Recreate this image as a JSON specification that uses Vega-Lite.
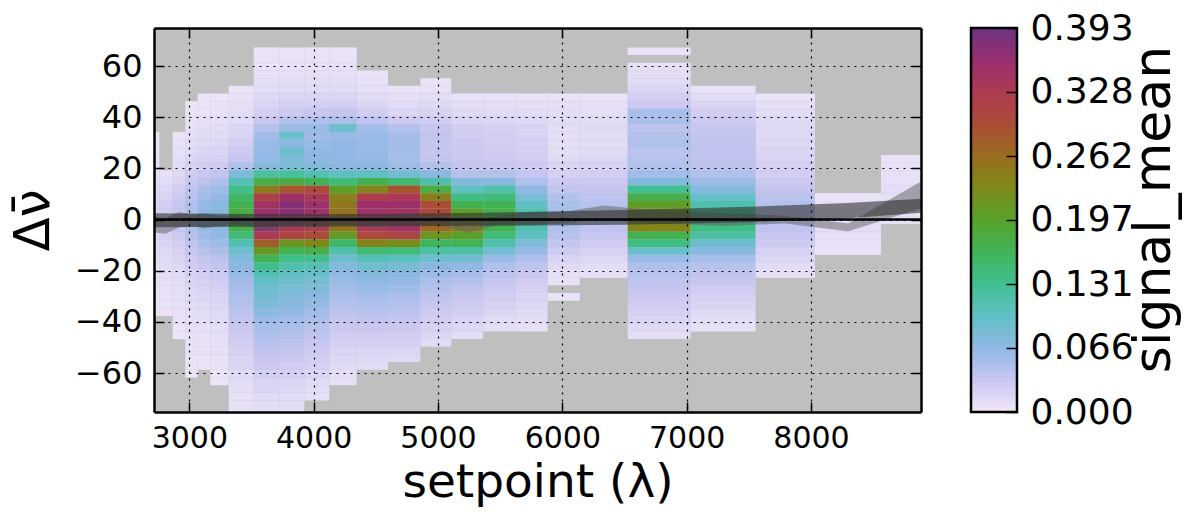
{
  "$schema": "https://vega.github.io/schema/vega-lite/v6.json",
  "background": "white",
  "padding": {"left": 8, "top": 10, "right": 10, "bottom": 12},
  "spacing": 46,
  "datasets": {
    "cols": [
      {"c":0,"x0":2660,"x1":2759},{"c":1,"x0":2759,"x1":2866},{"c":2,"x0":2866,"x1":2968},{"c":3,"x0":2968,"x1":3068},
      {"c":4,"x0":3068,"x1":3169},{"c":5,"x0":3169,"x1":3317},{"c":6,"x0":3317,"x1":3518},{"c":7,"x0":3518,"x1":3724},
      {"c":8,"x0":3724,"x1":3925},{"c":9,"x0":3925,"x1":4126},{"c":10,"x0":4126,"x1":4346},{"c":11,"x0":4346,"x1":4598},
      {"c":12,"x0":4598,"x1":4858},{"c":13,"x0":4858,"x1":5107},{"c":14,"x0":5107,"x1":5364},{"c":15,"x0":5364,"x1":5625},
      {"c":16,"x0":5625,"x1":5882},{"c":17,"x0":5882,"x1":6140},{"c":18,"x0":6140,"x1":6526},{"c":19,"x0":6526,"x1":7032},
      {"c":20,"x0":7032,"x1":7555},{"c":21,"x0":7555,"x1":8032},{"c":22,"x0":8032,"x1":8563},{"c":23,"x0":8563,"x1":9100}
    ],
    "cells": [
      {"c":0,"y":33,"v":0.004},{"c":0,"y":30,"v":0.005},{"c":0,"y":27,"v":0.006},{"c":0,"y":24,"v":0.007},{"c":0,"y":21,"v":0.008},{"c":0,"y":18,"v":0.01},{"c":0,"y":15,"v":0.012},{"c":0,"y":12,"v":0.014},{"c":0,"y":9,"v":0.016},{"c":0,"y":6,"v":0.018},{"c":0,"y":3,"v":0.02},{"c":0,"y":0,"v":0.02},{"c":0,"y":-3,"v":0.018},{"c":0,"y":-6,"v":0.016},{"c":0,"y":-9,"v":0.014},{"c":0,"y":-12,"v":0.012},{"c":0,"y":-15,"v":0.01},{"c":0,"y":-18,"v":0.009},{"c":0,"y":-21,"v":0.008},{"c":0,"y":-24,"v":0.007},{"c":0,"y":-27,"v":0.006},{"c":0,"y":-30,"v":0.005},{"c":0,"y":-33,"v":0.005},{"c":0,"y":-36,"v":0.004},
      {"c":1,"y":18,"v":0.008},{"c":1,"y":15,"v":0.012},{"c":1,"y":12,"v":0.016},{"c":1,"y":9,"v":0.02},{"c":1,"y":6,"v":0.024},{"c":1,"y":3,"v":0.026},{"c":1,"y":0,"v":0.026},{"c":1,"y":-3,"v":0.024},{"c":1,"y":-6,"v":0.021},{"c":1,"y":-9,"v":0.018},{"c":1,"y":-12,"v":0.015},{"c":1,"y":-15,"v":0.013},{"c":1,"y":-18,"v":0.011},{"c":1,"y":-21,"v":0.01},{"c":1,"y":-24,"v":0.009},{"c":1,"y":-27,"v":0.008},{"c":1,"y":-30,"v":0.007},{"c":1,"y":-33,"v":0.006},{"c":1,"y":-36,"v":0.005},
      {"c":2,"y":33,"v":0.005},{"c":2,"y":30,"v":0.006},{"c":2,"y":27,"v":0.008},{"c":2,"y":24,"v":0.01},{"c":2,"y":21,"v":0.012},{"c":2,"y":18,"v":0.015},{"c":2,"y":15,"v":0.019},{"c":2,"y":12,"v":0.024},{"c":2,"y":9,"v":0.028},{"c":2,"y":6,"v":0.032},{"c":2,"y":3,"v":0.035},{"c":2,"y":0,"v":0.035},{"c":2,"y":-3,"v":0.033},{"c":2,"y":-6,"v":0.029},{"c":2,"y":-9,"v":0.025},{"c":2,"y":-12,"v":0.021},{"c":2,"y":-15,"v":0.018},{"c":2,"y":-18,"v":0.015},{"c":2,"y":-21,"v":0.013},{"c":2,"y":-24,"v":0.011},{"c":2,"y":-27,"v":0.01},{"c":2,"y":-30,"v":0.009},{"c":2,"y":-33,"v":0.008},{"c":2,"y":-36,"v":0.007},{"c":2,"y":-39,"v":0.006},{"c":2,"y":-42,"v":0.005},{"c":2,"y":-45,"v":0.004},
      {"c":3,"y":45,"v":0.004},{"c":3,"y":42,"v":0.005},{"c":3,"y":39,"v":0.006},{"c":3,"y":36,"v":0.008},{"c":3,"y":33,"v":0.01},{"c":3,"y":30,"v":0.012},{"c":3,"y":27,"v":0.014},{"c":3,"y":24,"v":0.017},{"c":3,"y":21,"v":0.021},{"c":3,"y":18,"v":0.026},{"c":3,"y":15,"v":0.031},{"c":3,"y":12,"v":0.037},{"c":3,"y":9,"v":0.042},{"c":3,"y":6,"v":0.047},{"c":3,"y":3,"v":0.05},{"c":3,"y":0,"v":0.05},{"c":3,"y":-3,"v":0.048},{"c":3,"y":-6,"v":0.044},{"c":3,"y":-9,"v":0.039},{"c":3,"y":-12,"v":0.034},{"c":3,"y":-15,"v":0.029},{"c":3,"y":-18,"v":0.025},{"c":3,"y":-21,"v":0.021},{"c":3,"y":-24,"v":0.018},{"c":3,"y":-27,"v":0.016},{"c":3,"y":-30,"v":0.014},{"c":3,"y":-33,"v":0.012},{"c":3,"y":-36,"v":0.011},{"c":3,"y":-39,"v":0.01},{"c":3,"y":-42,"v":0.009},{"c":3,"y":-45,"v":0.008},{"c":3,"y":-48,"v":0.007},{"c":3,"y":-51,"v":0.006},{"c":3,"y":-54,"v":0.005},{"c":3,"y":-57,"v":0.005},{"c":3,"y":-60,"v":0.004},
      {"c":4,"y":48,"v":0.004},{"c":4,"y":45,"v":0.005},{"c":4,"y":42,"v":0.006},{"c":4,"y":39,"v":0.008},{"c":4,"y":36,"v":0.01},{"c":4,"y":33,"v":0.012},{"c":4,"y":30,"v":0.014},{"c":4,"y":27,"v":0.017},{"c":4,"y":24,"v":0.021},{"c":4,"y":21,"v":0.026},{"c":4,"y":18,"v":0.032},{"c":4,"y":15,"v":0.04},{"c":4,"y":12,"v":0.049},{"c":4,"y":9,"v":0.056},{"c":4,"y":6,"v":0.062},{"c":4,"y":3,"v":0.065},{"c":4,"y":0,"v":0.065},{"c":4,"y":-3,"v":0.062},{"c":4,"y":-6,"v":0.057},{"c":4,"y":-9,"v":0.05},{"c":4,"y":-12,"v":0.043},{"c":4,"y":-15,"v":0.036},{"c":4,"y":-18,"v":0.031},{"c":4,"y":-21,"v":0.026},{"c":4,"y":-24,"v":0.022},{"c":4,"y":-27,"v":0.019},{"c":4,"y":-30,"v":0.016},{"c":4,"y":-33,"v":0.014},{"c":4,"y":-36,"v":0.012},{"c":4,"y":-39,"v":0.01},{"c":4,"y":-42,"v":0.009},{"c":4,"y":-45,"v":0.008},{"c":4,"y":-48,"v":0.007},{"c":4,"y":-51,"v":0.006},{"c":4,"y":-54,"v":0.005},{"c":4,"y":-57,"v":0.004},
      {"c":5,"y":48,"v":0.004},{"c":5,"y":45,"v":0.005},{"c":5,"y":42,"v":0.007},{"c":5,"y":39,"v":0.009},{"c":5,"y":36,"v":0.011},{"c":5,"y":33,"v":0.013},{"c":5,"y":30,"v":0.016},{"c":5,"y":27,"v":0.019},{"c":5,"y":24,"v":0.023},{"c":5,"y":21,"v":0.029},{"c":5,"y":18,"v":0.037},{"c":5,"y":15,"v":0.047},{"c":5,"y":12,"v":0.057},{"c":5,"y":9,"v":0.064},{"c":5,"y":6,"v":0.07},{"c":5,"y":3,"v":0.073},{"c":5,"y":0,"v":0.073},{"c":5,"y":-3,"v":0.07},{"c":5,"y":-6,"v":0.064},{"c":5,"y":-9,"v":0.057},{"c":5,"y":-12,"v":0.049},{"c":5,"y":-15,"v":0.041},{"c":5,"y":-18,"v":0.035},{"c":5,"y":-21,"v":0.03},{"c":5,"y":-24,"v":0.026},{"c":5,"y":-27,"v":0.022},{"c":5,"y":-30,"v":0.019},{"c":5,"y":-33,"v":0.017},{"c":5,"y":-36,"v":0.015},{"c":5,"y":-39,"v":0.013},{"c":5,"y":-42,"v":0.011},{"c":5,"y":-45,"v":0.01},{"c":5,"y":-48,"v":0.009},{"c":5,"y":-51,"v":0.008},{"c":5,"y":-54,"v":0.007},{"c":5,"y":-57,"v":0.006},{"c":5,"y":-60,"v":0.005},{"c":5,"y":-63,"v":0.004},
      {"c":6,"y":51,"v":0.005},{"c":6,"y":48,"v":0.007},{"c":6,"y":45,"v":0.009},{"c":6,"y":42,"v":0.011},{"c":6,"y":39,"v":0.014},{"c":6,"y":36,"v":0.017},{"c":6,"y":33,"v":0.02},{"c":6,"y":30,"v":0.024},{"c":6,"y":27,"v":0.028},{"c":6,"y":24,"v":0.034},{"c":6,"y":21,"v":0.048},{"c":6,"y":18,"v":0.078},{"c":6,"y":15,"v":0.108},{"c":6,"y":12,"v":0.135},{"c":6,"y":9,"v":0.155},{"c":6,"y":6,"v":0.17},{"c":6,"y":3,"v":0.178},{"c":6,"y":0,"v":0.182},{"c":6,"y":-3,"v":0.172},{"c":6,"y":-6,"v":0.145},{"c":6,"y":-9,"v":0.112},{"c":6,"y":-12,"v":0.088},{"c":6,"y":-15,"v":0.075},{"c":6,"y":-18,"v":0.068},{"c":6,"y":-21,"v":0.062},{"c":6,"y":-24,"v":0.057},{"c":6,"y":-27,"v":0.052},{"c":6,"y":-30,"v":0.048},{"c":6,"y":-33,"v":0.044},{"c":6,"y":-36,"v":0.04},{"c":6,"y":-39,"v":0.036},{"c":6,"y":-42,"v":0.032},{"c":6,"y":-45,"v":0.029},{"c":6,"y":-48,"v":0.026},{"c":6,"y":-51,"v":0.023},{"c":6,"y":-54,"v":0.02},{"c":6,"y":-57,"v":0.017},{"c":6,"y":-60,"v":0.014},{"c":6,"y":-63,"v":0.012},{"c":6,"y":-66,"v":0.01},{"c":6,"y":-69,"v":0.008},{"c":6,"y":-72,"v":0.007},{"c":6,"y":-75,"v":0.006},
      {"c":7,"y":66,"v":0.005},{"c":7,"y":63,"v":0.006},{"c":7,"y":60,"v":0.007},{"c":7,"y":57,"v":0.008},{"c":7,"y":54,"v":0.01},{"c":7,"y":51,"v":0.012},{"c":7,"y":48,"v":0.015},{"c":7,"y":45,"v":0.019},{"c":7,"y":42,"v":0.024},{"c":7,"y":39,"v":0.032},{"c":7,"y":36,"v":0.045},{"c":7,"y":33,"v":0.055},{"c":7,"y":30,"v":0.06},{"c":7,"y":27,"v":0.062},{"c":7,"y":24,"v":0.064},{"c":7,"y":21,"v":0.075},{"c":7,"y":18,"v":0.12},{"c":7,"y":15,"v":0.175},{"c":7,"y":12,"v":0.245},{"c":7,"y":9,"v":0.315},{"c":7,"y":6,"v":0.345},{"c":7,"y":3,"v":0.355},{"c":7,"y":0,"v":0.36},{"c":7,"y":-3,"v":0.365},{"c":7,"y":-6,"v":0.33},{"c":7,"y":-9,"v":0.275},{"c":7,"y":-12,"v":0.21},{"c":7,"y":-15,"v":0.165},{"c":7,"y":-18,"v":0.135},{"c":7,"y":-21,"v":0.112},{"c":7,"y":-24,"v":0.097},{"c":7,"y":-27,"v":0.09},{"c":7,"y":-30,"v":0.085},{"c":7,"y":-33,"v":0.078},{"c":7,"y":-36,"v":0.068},{"c":7,"y":-39,"v":0.06},{"c":7,"y":-42,"v":0.053},{"c":7,"y":-45,"v":0.047},{"c":7,"y":-48,"v":0.042},{"c":7,"y":-51,"v":0.037},{"c":7,"y":-54,"v":0.032},{"c":7,"y":-57,"v":0.028},{"c":7,"y":-60,"v":0.024},{"c":7,"y":-63,"v":0.02},{"c":7,"y":-66,"v":0.017},{"c":7,"y":-69,"v":0.014},{"c":7,"y":-72,"v":0.011},{"c":7,"y":-75,"v":0.009},
      {"c":8,"y":66,"v":0.005},{"c":8,"y":63,"v":0.006},{"c":8,"y":60,"v":0.007},{"c":8,"y":57,"v":0.009},{"c":8,"y":54,"v":0.011},{"c":8,"y":51,"v":0.014},{"c":8,"y":48,"v":0.018},{"c":8,"y":45,"v":0.023},{"c":8,"y":42,"v":0.03},{"c":8,"y":39,"v":0.045},{"c":8,"y":36,"v":0.058},{"c":8,"y":33,"v":0.092},{"c":8,"y":30,"v":0.07},{"c":8,"y":27,"v":0.088},{"c":8,"y":24,"v":0.08},{"c":8,"y":21,"v":0.082},{"c":8,"y":18,"v":0.125},{"c":8,"y":15,"v":0.18},{"c":8,"y":12,"v":0.285},{"c":8,"y":9,"v":0.35},{"c":8,"y":6,"v":0.375},{"c":8,"y":3,"v":0.37},{"c":8,"y":0,"v":0.36},{"c":8,"y":-3,"v":0.33},{"c":8,"y":-6,"v":0.31},{"c":8,"y":-9,"v":0.215},{"c":8,"y":-12,"v":0.168},{"c":8,"y":-15,"v":0.135},{"c":8,"y":-18,"v":0.115},{"c":8,"y":-21,"v":0.1},{"c":8,"y":-24,"v":0.088},{"c":8,"y":-27,"v":0.082},{"c":8,"y":-30,"v":0.076},{"c":8,"y":-33,"v":0.07},{"c":8,"y":-36,"v":0.063},{"c":8,"y":-39,"v":0.056},{"c":8,"y":-42,"v":0.05},{"c":8,"y":-45,"v":0.045},{"c":8,"y":-48,"v":0.04},{"c":8,"y":-51,"v":0.035},{"c":8,"y":-54,"v":0.031},{"c":8,"y":-57,"v":0.027},{"c":8,"y":-60,"v":0.023},{"c":8,"y":-63,"v":0.019},{"c":8,"y":-66,"v":0.016},{"c":8,"y":-69,"v":0.013},{"c":8,"y":-72,"v":0.011},{"c":8,"y":-75,"v":0.009},
      {"c":9,"y":66,"v":0.005},{"c":9,"y":63,"v":0.006},{"c":9,"y":60,"v":0.007},{"c":9,"y":57,"v":0.009},{"c":9,"y":54,"v":0.011},{"c":9,"y":51,"v":0.014},{"c":9,"y":48,"v":0.018},{"c":9,"y":45,"v":0.024},{"c":9,"y":42,"v":0.032},{"c":9,"y":39,"v":0.048},{"c":9,"y":36,"v":0.06},{"c":9,"y":33,"v":0.058},{"c":9,"y":30,"v":0.062},{"c":9,"y":27,"v":0.065},{"c":9,"y":24,"v":0.068},{"c":9,"y":21,"v":0.075},{"c":9,"y":18,"v":0.11},{"c":9,"y":15,"v":0.165},{"c":9,"y":12,"v":0.3},{"c":9,"y":9,"v":0.335},{"c":9,"y":6,"v":0.355},{"c":9,"y":3,"v":0.35},{"c":9,"y":0,"v":0.34},{"c":9,"y":-3,"v":0.32},{"c":9,"y":-6,"v":0.295},{"c":9,"y":-9,"v":0.23},{"c":9,"y":-12,"v":0.175},{"c":9,"y":-15,"v":0.135},{"c":9,"y":-18,"v":0.11},{"c":9,"y":-21,"v":0.094},{"c":9,"y":-24,"v":0.084},{"c":9,"y":-27,"v":0.076},{"c":9,"y":-30,"v":0.069},{"c":9,"y":-33,"v":0.062},{"c":9,"y":-36,"v":0.055},{"c":9,"y":-39,"v":0.049},{"c":9,"y":-42,"v":0.043},{"c":9,"y":-45,"v":0.038},{"c":9,"y":-48,"v":0.033},{"c":9,"y":-51,"v":0.029},{"c":9,"y":-54,"v":0.025},{"c":9,"y":-57,"v":0.021},{"c":9,"y":-60,"v":0.017},{"c":9,"y":-63,"v":0.014},{"c":9,"y":-66,"v":0.011},{"c":9,"y":-69,"v":0.009},
      {"c":10,"y":66,"v":0.005},{"c":10,"y":63,"v":0.006},{"c":10,"y":60,"v":0.007},{"c":10,"y":57,"v":0.009},{"c":10,"y":54,"v":0.011},{"c":10,"y":51,"v":0.014},{"c":10,"y":48,"v":0.018},{"c":10,"y":45,"v":0.025},{"c":10,"y":42,"v":0.035},{"c":10,"y":39,"v":0.05},{"c":10,"y":36,"v":0.09},{"c":10,"y":33,"v":0.062},{"c":10,"y":30,"v":0.065},{"c":10,"y":27,"v":0.066},{"c":10,"y":24,"v":0.066},{"c":10,"y":21,"v":0.07},{"c":10,"y":18,"v":0.1},{"c":10,"y":15,"v":0.145},{"c":10,"y":12,"v":0.2},{"c":10,"y":9,"v":0.24},{"c":10,"y":6,"v":0.25},{"c":10,"y":3,"v":0.255},{"c":10,"y":0,"v":0.26},{"c":10,"y":-3,"v":0.25},{"c":10,"y":-6,"v":0.205},{"c":10,"y":-9,"v":0.155},{"c":10,"y":-12,"v":0.115},{"c":10,"y":-15,"v":0.09},{"c":10,"y":-18,"v":0.075},{"c":10,"y":-21,"v":0.066},{"c":10,"y":-24,"v":0.06},{"c":10,"y":-27,"v":0.055},{"c":10,"y":-30,"v":0.05},{"c":10,"y":-33,"v":0.045},{"c":10,"y":-36,"v":0.04},{"c":10,"y":-39,"v":0.035},{"c":10,"y":-42,"v":0.031},{"c":10,"y":-45,"v":0.027},{"c":10,"y":-48,"v":0.023},{"c":10,"y":-51,"v":0.019},{"c":10,"y":-54,"v":0.016},{"c":10,"y":-57,"v":0.013},{"c":10,"y":-60,"v":0.01},{"c":10,"y":-63,"v":0.008},
      {"c":11,"y":57,"v":0.006},{"c":11,"y":54,"v":0.008},{"c":11,"y":51,"v":0.01},{"c":11,"y":48,"v":0.013},{"c":11,"y":45,"v":0.018},{"c":11,"y":42,"v":0.025},{"c":11,"y":39,"v":0.038},{"c":11,"y":36,"v":0.055},{"c":11,"y":33,"v":0.06},{"c":11,"y":30,"v":0.062},{"c":11,"y":27,"v":0.062},{"c":11,"y":24,"v":0.063},{"c":11,"y":21,"v":0.068},{"c":11,"y":18,"v":0.1},{"c":11,"y":15,"v":0.17},{"c":11,"y":12,"v":0.235},{"c":11,"y":9,"v":0.32},{"c":11,"y":6,"v":0.355},{"c":11,"y":3,"v":0.35},{"c":11,"y":0,"v":0.345},{"c":11,"y":-3,"v":0.33},{"c":11,"y":-6,"v":0.3},{"c":11,"y":-9,"v":0.235},{"c":11,"y":-12,"v":0.15},{"c":11,"y":-15,"v":0.11},{"c":11,"y":-18,"v":0.088},{"c":11,"y":-21,"v":0.075},{"c":11,"y":-24,"v":0.066},{"c":11,"y":-27,"v":0.059},{"c":11,"y":-30,"v":0.053},{"c":11,"y":-33,"v":0.047},{"c":11,"y":-36,"v":0.042},{"c":11,"y":-39,"v":0.037},{"c":11,"y":-42,"v":0.032},{"c":11,"y":-45,"v":0.027},{"c":11,"y":-48,"v":0.023},{"c":11,"y":-51,"v":0.019},{"c":11,"y":-54,"v":0.015},{"c":11,"y":-57,"v":0.012},
      {"c":12,"y":51,"v":0.006},{"c":12,"y":48,"v":0.009},{"c":12,"y":45,"v":0.013},{"c":12,"y":42,"v":0.018},{"c":12,"y":39,"v":0.028},{"c":12,"y":36,"v":0.045},{"c":12,"y":33,"v":0.052},{"c":12,"y":30,"v":0.055},{"c":12,"y":27,"v":0.054},{"c":12,"y":24,"v":0.052},{"c":12,"y":21,"v":0.058},{"c":12,"y":18,"v":0.085},{"c":12,"y":15,"v":0.15},{"c":12,"y":12,"v":0.285},{"c":12,"y":9,"v":0.33},{"c":12,"y":6,"v":0.355},{"c":12,"y":3,"v":0.345},{"c":12,"y":0,"v":0.34},{"c":12,"y":-3,"v":0.345},{"c":12,"y":-6,"v":0.31},{"c":12,"y":-9,"v":0.225},{"c":12,"y":-12,"v":0.145},{"c":12,"y":-15,"v":0.105},{"c":12,"y":-18,"v":0.082},{"c":12,"y":-21,"v":0.07},{"c":12,"y":-24,"v":0.062},{"c":12,"y":-27,"v":0.056},{"c":12,"y":-30,"v":0.05},{"c":12,"y":-33,"v":0.045},{"c":12,"y":-36,"v":0.04},{"c":12,"y":-39,"v":0.035},{"c":12,"y":-42,"v":0.03},{"c":12,"y":-45,"v":0.026},{"c":12,"y":-48,"v":0.022},{"c":12,"y":-51,"v":0.018},{"c":12,"y":-54,"v":0.014},
      {"c":13,"y":54,"v":0.006},{"c":13,"y":51,"v":0.008},{"c":13,"y":48,"v":0.011},{"c":13,"y":45,"v":0.015},{"c":13,"y":42,"v":0.02},{"c":13,"y":39,"v":0.027},{"c":13,"y":36,"v":0.033},{"c":13,"y":33,"v":0.036},{"c":13,"y":30,"v":0.035},{"c":13,"y":27,"v":0.034},{"c":13,"y":24,"v":0.036},{"c":13,"y":21,"v":0.045},{"c":13,"y":18,"v":0.07},{"c":13,"y":15,"v":0.115},{"c":13,"y":12,"v":0.18},{"c":13,"y":9,"v":0.24},{"c":13,"y":6,"v":0.295},{"c":13,"y":3,"v":0.3},{"c":13,"y":0,"v":0.285},{"c":13,"y":-3,"v":0.265},{"c":13,"y":-6,"v":0.215},{"c":13,"y":-9,"v":0.16},{"c":13,"y":-12,"v":0.12},{"c":13,"y":-15,"v":0.09},{"c":13,"y":-18,"v":0.07},{"c":13,"y":-21,"v":0.058},{"c":13,"y":-24,"v":0.05},{"c":13,"y":-27,"v":0.044},{"c":13,"y":-30,"v":0.039},{"c":13,"y":-33,"v":0.034},{"c":13,"y":-36,"v":0.029},{"c":13,"y":-39,"v":0.025},{"c":13,"y":-42,"v":0.021},{"c":13,"y":-45,"v":0.017},{"c":13,"y":-48,"v":0.013},
      {"c":14,"y":48,"v":0.007},{"c":14,"y":45,"v":0.01},{"c":14,"y":42,"v":0.014},{"c":14,"y":39,"v":0.019},{"c":14,"y":36,"v":0.024},{"c":14,"y":33,"v":0.027},{"c":14,"y":30,"v":0.029},{"c":14,"y":27,"v":0.03},{"c":14,"y":24,"v":0.031},{"c":14,"y":21,"v":0.035},{"c":14,"y":18,"v":0.045},{"c":14,"y":15,"v":0.075},{"c":14,"y":12,"v":0.1},{"c":14,"y":9,"v":0.14},{"c":14,"y":6,"v":0.17},{"c":14,"y":3,"v":0.2},{"c":14,"y":0,"v":0.22},{"c":14,"y":-3,"v":0.235},{"c":14,"y":-6,"v":0.2},{"c":14,"y":-9,"v":0.165},{"c":14,"y":-12,"v":0.12},{"c":14,"y":-15,"v":0.085},{"c":14,"y":-18,"v":0.065},{"c":14,"y":-21,"v":0.052},{"c":14,"y":-24,"v":0.044},{"c":14,"y":-27,"v":0.038},{"c":14,"y":-30,"v":0.033},{"c":14,"y":-33,"v":0.028},{"c":14,"y":-36,"v":0.024},{"c":14,"y":-39,"v":0.02},{"c":14,"y":-42,"v":0.016},{"c":14,"y":-45,"v":0.012},
      {"c":15,"y":48,"v":0.007},{"c":15,"y":45,"v":0.01},{"c":15,"y":42,"v":0.013},{"c":15,"y":39,"v":0.017},{"c":15,"y":36,"v":0.021},{"c":15,"y":33,"v":0.024},{"c":15,"y":30,"v":0.026},{"c":15,"y":27,"v":0.027},{"c":15,"y":24,"v":0.029},{"c":15,"y":21,"v":0.033},{"c":15,"y":18,"v":0.045},{"c":15,"y":15,"v":0.07},{"c":15,"y":12,"v":0.115},{"c":15,"y":9,"v":0.145},{"c":15,"y":6,"v":0.168},{"c":15,"y":3,"v":0.172},{"c":15,"y":0,"v":0.172},{"c":15,"y":-3,"v":0.168},{"c":15,"y":-6,"v":0.145},{"c":15,"y":-9,"v":0.115},{"c":15,"y":-12,"v":0.085},{"c":15,"y":-15,"v":0.06},{"c":15,"y":-18,"v":0.048},{"c":15,"y":-21,"v":0.04},{"c":15,"y":-24,"v":0.034},{"c":15,"y":-27,"v":0.029},{"c":15,"y":-30,"v":0.025},{"c":15,"y":-33,"v":0.021},{"c":15,"y":-36,"v":0.017},{"c":15,"y":-39,"v":0.013},{"c":15,"y":-42,"v":0.01},
      {"c":16,"y":48,"v":0.006},{"c":16,"y":45,"v":0.009},{"c":16,"y":42,"v":0.012},{"c":16,"y":39,"v":0.015},{"c":16,"y":36,"v":0.018},{"c":16,"y":33,"v":0.02},{"c":16,"y":30,"v":0.022},{"c":16,"y":27,"v":0.023},{"c":16,"y":24,"v":0.024},{"c":16,"y":21,"v":0.028},{"c":16,"y":18,"v":0.035},{"c":16,"y":15,"v":0.048},{"c":16,"y":12,"v":0.065},{"c":16,"y":9,"v":0.08},{"c":16,"y":6,"v":0.1},{"c":16,"y":3,"v":0.112},{"c":16,"y":0,"v":0.115},{"c":16,"y":-3,"v":0.112},{"c":16,"y":-6,"v":0.1},{"c":16,"y":-9,"v":0.078},{"c":16,"y":-12,"v":0.062},{"c":16,"y":-15,"v":0.047},{"c":16,"y":-18,"v":0.038},{"c":16,"y":-21,"v":0.032},{"c":16,"y":-24,"v":0.027},{"c":16,"y":-27,"v":0.023},{"c":16,"y":-30,"v":0.019},{"c":16,"y":-33,"v":0.016},{"c":16,"y":-36,"v":0.013},{"c":16,"y":-39,"v":0.01},{"c":16,"y":-42,"v":0.008},
      {"c":17,"y":48,"v":0.006},{"c":17,"y":45,"v":0.009},{"c":17,"y":42,"v":0.011},{"c":17,"y":39,"v":0.012},{"c":17,"y":36,"v":0.011},{"c":17,"y":33,"v":0.01},{"c":17,"y":30,"v":0.01},{"c":17,"y":27,"v":0.011},{"c":17,"y":24,"v":0.014},{"c":17,"y":21,"v":0.018},{"c":17,"y":18,"v":0.022},{"c":17,"y":15,"v":0.03},{"c":17,"y":12,"v":0.036},{"c":17,"y":9,"v":0.045},{"c":17,"y":6,"v":0.05},{"c":17,"y":3,"v":0.053},{"c":17,"y":0,"v":0.053},{"c":17,"y":-3,"v":0.048},{"c":17,"y":-6,"v":0.042},{"c":17,"y":-9,"v":0.034},{"c":17,"y":-12,"v":0.028},{"c":17,"y":-15,"v":0.02},{"c":17,"y":-18,"v":0.014},{"c":17,"y":-21,"v":0.009},{"c":17,"y":-24,"v":0.007},{"c":17,"y":-30,"v":0.006},
      {"c":18,"y":48,"v":0.006},{"c":18,"y":45,"v":0.008},{"c":18,"y":42,"v":0.01},{"c":18,"y":39,"v":0.012},{"c":18,"y":36,"v":0.013},{"c":18,"y":33,"v":0.012},{"c":18,"y":30,"v":0.011},{"c":18,"y":27,"v":0.013},{"c":18,"y":24,"v":0.017},{"c":18,"y":21,"v":0.021},{"c":18,"y":18,"v":0.026},{"c":18,"y":15,"v":0.031},{"c":18,"y":12,"v":0.035},{"c":18,"y":9,"v":0.039},{"c":18,"y":6,"v":0.042},{"c":18,"y":3,"v":0.044},{"c":18,"y":0,"v":0.042},{"c":18,"y":-3,"v":0.038},{"c":18,"y":-6,"v":0.033},{"c":18,"y":-9,"v":0.027},{"c":18,"y":-12,"v":0.021},{"c":18,"y":-15,"v":0.016},{"c":18,"y":-18,"v":0.011},{"c":18,"y":-21,"v":0.008},
      {"c":19,"y":66,"v":0.006},{"c":19,"y":60,"v":0.007},{"c":19,"y":57,"v":0.01},{"c":19,"y":54,"v":0.013},{"c":19,"y":51,"v":0.017},{"c":19,"y":48,"v":0.024},{"c":19,"y":45,"v":0.03},{"c":19,"y":42,"v":0.052},{"c":19,"y":39,"v":0.05},{"c":19,"y":36,"v":0.04},{"c":19,"y":33,"v":0.044},{"c":19,"y":30,"v":0.048},{"c":19,"y":27,"v":0.04},{"c":19,"y":24,"v":0.042},{"c":19,"y":21,"v":0.045},{"c":19,"y":18,"v":0.055},{"c":19,"y":15,"v":0.075},{"c":19,"y":12,"v":0.13},{"c":19,"y":9,"v":0.175},{"c":19,"y":6,"v":0.205},{"c":19,"y":3,"v":0.215},{"c":19,"y":0,"v":0.225},{"c":19,"y":-3,"v":0.235},{"c":19,"y":-6,"v":0.17},{"c":19,"y":-9,"v":0.14},{"c":19,"y":-12,"v":0.092},{"c":19,"y":-15,"v":0.06},{"c":19,"y":-18,"v":0.048},{"c":19,"y":-21,"v":0.043},{"c":19,"y":-24,"v":0.038},{"c":19,"y":-27,"v":0.034},{"c":19,"y":-30,"v":0.03},{"c":19,"y":-33,"v":0.026},{"c":19,"y":-36,"v":0.022},{"c":19,"y":-39,"v":0.018},{"c":19,"y":-42,"v":0.014},{"c":19,"y":-45,"v":0.01},
      {"c":20,"y":51,"v":0.007},{"c":20,"y":48,"v":0.012},{"c":20,"y":45,"v":0.018},{"c":20,"y":42,"v":0.024},{"c":20,"y":39,"v":0.03},{"c":20,"y":36,"v":0.034},{"c":20,"y":33,"v":0.036},{"c":20,"y":30,"v":0.037},{"c":20,"y":27,"v":0.037},{"c":20,"y":24,"v":0.038},{"c":20,"y":21,"v":0.04},{"c":20,"y":18,"v":0.046},{"c":20,"y":15,"v":0.058},{"c":20,"y":12,"v":0.074},{"c":20,"y":9,"v":0.093},{"c":20,"y":6,"v":0.115},{"c":20,"y":3,"v":0.13},{"c":20,"y":0,"v":0.138},{"c":20,"y":-3,"v":0.14},{"c":20,"y":-6,"v":0.12},{"c":20,"y":-9,"v":0.09},{"c":20,"y":-12,"v":0.07},{"c":20,"y":-15,"v":0.052},{"c":20,"y":-18,"v":0.043},{"c":20,"y":-21,"v":0.037},{"c":20,"y":-24,"v":0.032},{"c":20,"y":-27,"v":0.027},{"c":20,"y":-30,"v":0.022},{"c":20,"y":-33,"v":0.018},{"c":20,"y":-36,"v":0.014},{"c":20,"y":-39,"v":0.011},{"c":20,"y":-42,"v":0.008},
      {"c":21,"y":48,"v":0.006},{"c":21,"y":45,"v":0.009},{"c":21,"y":42,"v":0.012},{"c":21,"y":39,"v":0.014},{"c":21,"y":36,"v":0.015},{"c":21,"y":33,"v":0.015},{"c":21,"y":30,"v":0.016},{"c":21,"y":27,"v":0.017},{"c":21,"y":24,"v":0.02},{"c":21,"y":21,"v":0.023},{"c":21,"y":18,"v":0.026},{"c":21,"y":15,"v":0.031},{"c":21,"y":12,"v":0.035},{"c":21,"y":9,"v":0.04},{"c":21,"y":6,"v":0.044},{"c":21,"y":3,"v":0.045},{"c":21,"y":0,"v":0.043},{"c":21,"y":-3,"v":0.038},{"c":21,"y":-6,"v":0.033},{"c":21,"y":-9,"v":0.028},{"c":21,"y":-12,"v":0.022},{"c":21,"y":-15,"v":0.017},{"c":21,"y":-18,"v":0.012},{"c":21,"y":-21,"v":0.008},
      {"c":22,"y":9,"v":0.006},{"c":22,"y":6,"v":0.009},{"c":22,"y":3,"v":0.011},{"c":22,"y":0,"v":0.012},{"c":22,"y":-3,"v":0.011},{"c":22,"y":-6,"v":0.009},{"c":22,"y":-9,"v":0.007},{"c":22,"y":-12,"v":0.006},
      {"c":23,"y":24,"v":0.006},{"c":23,"y":21,"v":0.007},{"c":23,"y":18,"v":0.008},{"c":23,"y":15,"v":0.009},{"c":23,"y":12,"v":0.01},{"c":23,"y":9,"v":0.01},{"c":23,"y":6,"v":0.01},{"c":23,"y":3,"v":0.009},{"c":23,"y":0,"v":0.008}
    ],
    "spread": [
      {"x":2716,"lo":-5,"hi":1},{"x":2810,"lo":-5.5,"hi":0.5},{"x":2920,"lo":-3,"hi":3},{"x":3020,"lo":-2.5,"hi":2},
      {"x":3120,"lo":-3.5,"hi":2.5},{"x":3240,"lo":-2.5,"hi":1.5},{"x":3420,"lo":-2,"hi":1.5},{"x":3620,"lo":-4.5,"hi":-0.5},
      {"x":3820,"lo":-3,"hi":0.5},{"x":4030,"lo":-3.5,"hi":1},{"x":4240,"lo":-2,"hi":1.5},{"x":4470,"lo":-3.5,"hi":0},
      {"x":4730,"lo":-2.5,"hi":2.5},{"x":4980,"lo":-2,"hi":1.5},{"x":5240,"lo":-5,"hi":-1},{"x":5490,"lo":-2,"hi":1.5},
      {"x":5750,"lo":-2,"hi":3},{"x":6010,"lo":-1.5,"hi":3},{"x":6330,"lo":0.5,"hi":5.5},{"x":6780,"lo":-1.5,"hi":3.5},
      {"x":7290,"lo":-2.5,"hi":2.5},{"x":7790,"lo":-1.5,"hi":1.5},{"x":8300,"lo":-4.5,"hi":-1.5},{"x":8890,"lo":4.5,"hi":15}
    ],
    "trend": [
      {"x":2716,"lo":-3,"hi":2.5},{"x":3500,"lo":-2.8,"hi":2.2},{"x":4500,"lo":-2.6,"hi":2.2},{"x":5500,"lo":-2.4,"hi":2.8},
      {"x":6500,"lo":-2,"hi":3.8},{"x":7500,"lo":-1,"hi":5},{"x":8300,"lo":0.5,"hi":6.5},{"x":8890,"lo":2.7,"hi":8.2}
    ]
  },
  "hconcat": [
    {
      "width": 767,
      "height": 384,
      "layer": [
        {
          "data": {"name": "cells"},
          "transform": [
            {"lookup": "c", "from": {"data": {"name": "cols"}, "key": "c", "fields": ["x0", "x1"]}},
            {"bin": {"step": 3, "extent": [-76.7, 67.3], "nice": false}, "field": "y", "as": ["y0", "y1"]}
          ],
          "mark": {"type": "rect", "clip": true},
          "encoding": {
            "x": {"field": "x0", "type": "quantitative",
              "scale": {"domain": [2716, 8885], "nice": false, "zero": false},
              "axis": {"orient": "bottom", "values": [3000, 4000, 5000, 6000, 7000, 8000], "format": "d",
                "labelFontSize": 30, "labelPadding": 21, "labelFlush": false, "labelOverlap": false,
                "tickSize": -10, "tickWidth": 1.5, "domain": true, "domainWidth": 2.5,
                "grid": true, "gridColor": "black", "gridDash": [2, 5], "gridWidth": 1.2, "gridOpacity": 1,
                "title": "setpoint (λ)", "titleFontSize": 47, "titlePadding": 6, "zindex": 1}},
            "x2": {"field": "x1"},
            "y": {"field": "y0", "type": "quantitative",
              "scale": {"domain": [-75.2, 74.9], "nice": false, "zero": false},
              "axis": {"orient": "left", "values": [-60, -40, -20, 0, 20, 40, 60], "format": "d",
                "labelExpr": "replace(datum.label, '-', '−')",
                "labelFontSize": 32, "labelPadding": 22, "labelFlush": false, "labelOverlap": false,
                "tickSize": -10, "tickWidth": 1.5, "domain": true, "domainWidth": 2.5,
                "grid": true, "gridColor": "black", "gridDash": [2, 5], "gridWidth": 1.2, "gridOpacity": 1,
                "title": "Δν̄", "titleFontSize": 50, "titlePadding": 16, "zindex": 1}},
            "y2": {"field": "y1"},
            "color": {"field": "v", "type": "quantitative", "legend": null,
              "scale": {"domain": [0, 0.033, 0.066, 0.098, 0.131, 0.164, 0.197, 0.229, 0.262, 0.295, 0.328, 0.36, 0.393],
                "range": ["#f2e8f8", "#c8c6f2", "#8fb8e4", "#60c0c6", "#40c092", "#40b458", "#58a22c", "#7e8a1a", "#9a6c20", "#aa4c36", "#ae3a52", "#982e6e", "#6c3382"],
                "interpolate": "rgb"}}
          }
        },
        {
          "data": {"name": "spread"},
          "mark": {"type": "area", "fill": "#606060", "opacity": 0.5, "clip": true},
          "encoding": {
            "x": {"field": "x", "type": "quantitative",
              "scale": {"domain": [2716, 8885], "nice": false, "zero": false},
              "axis": {"orient": "top", "values": [3000, 4000, 5000, 6000, 7000, 8000], "labels": false,
                "tickSize": -10, "tickWidth": 1.5, "domain": true, "domainWidth": 2.5, "grid": false, "title": null, "zindex": 1}},
            "y": {"field": "lo", "type": "quantitative", "scale": {"domain": [-75.2, 74.9], "nice": false, "zero": false}, "axis": null},
            "y2": {"field": "hi"}
          }
        },
        {
          "data": {"name": "trend"},
          "mark": {"type": "area", "fill": "#303030", "opacity": 0.6, "clip": true},
          "encoding": {
            "x": {"field": "x", "type": "quantitative", "scale": {"domain": [2716, 8885], "nice": false, "zero": false}, "axis": null},
            "y": {"field": "lo", "type": "quantitative", "scale": {"domain": [-75.2, 74.9], "nice": false, "zero": false}, "axis": null},
            "y2": {"field": "hi"}
          }
        },
        {
          "data": {"values": [{}]},
          "mark": {"type": "rule", "color": "black", "strokeWidth": 2.5},
          "encoding": {
            "y": {"datum": 0, "type": "quantitative",
              "scale": {"domain": [-75.2, 74.9], "nice": false, "zero": false},
              "axis": {"orient": "right", "values": [-60, -40, -20, 0, 20, 40, 60], "labels": false,
                "tickSize": -10, "tickWidth": 1.5, "domain": true, "domainWidth": 2.5, "grid": false, "title": null, "zindex": 1}}
          }
        }
      ],
      "resolve": {"axis": {"x": "independent", "y": "independent"}}
    },
    {
      "width": 46,
      "height": 384,
      "data": {"values": [{}]},
      "mark": {"type": "rect", "stroke": "black", "strokeWidth": 2.5,
        "color": {"gradient": "linear", "x1": 0, "y1": 1, "x2": 0, "y2": 0,
          "stops": [
            {"offset": 0, "color": "#f2e8f8"}, {"offset": 0.084, "color": "#c8c6f2"}, {"offset": 0.168, "color": "#8fb8e4"},
            {"offset": 0.249, "color": "#60c0c6"}, {"offset": 0.333, "color": "#40c092"}, {"offset": 0.417, "color": "#40b458"},
            {"offset": 0.501, "color": "#58a22c"}, {"offset": 0.583, "color": "#7e8a1a"}, {"offset": 0.667, "color": "#9a6c20"},
            {"offset": 0.751, "color": "#aa4c36"}, {"offset": 0.835, "color": "#ae3a52"}, {"offset": 0.916, "color": "#982e6e"},
            {"offset": 1, "color": "#6c3382"}]}},
      "encoding": {
        "y": {"datum": 0, "type": "quantitative",
          "scale": {"domain": [0, 0.393], "nice": false, "zero": false},
          "axis": {"orient": "right", "values": [0, 0.066, 0.131, 0.197, 0.262, 0.328, 0.393], "format": ".3f",
            "labelFontSize": 36, "labelPadding": 24, "labelFlush": false, "labelOverlap": false,
            "tickSize": -11, "tickWidth": 1.5, "domain": false, "grid": false,
            "title": "signal_mean", "titleFontSize": 52, "titleAngle": 270, "titleBaseline": "top", "titlePadding": -5,
            "titleY": 181, "zindex": 1}},
        "y2": {"datum": 0.393}
      }
    }
  ],
  "config": {
    "font": "DejaVu Sans",
    "view": {"stroke": null, "fill": "#bfbfbf"},
    "axis": {"labelFont": "DejaVu Sans", "titleFont": "DejaVu Sans", "labelColor": "black", "titleColor": "black",
      "titleFontWeight": "normal", "tickColor": "black", "domainColor": "black"}
  }
}
